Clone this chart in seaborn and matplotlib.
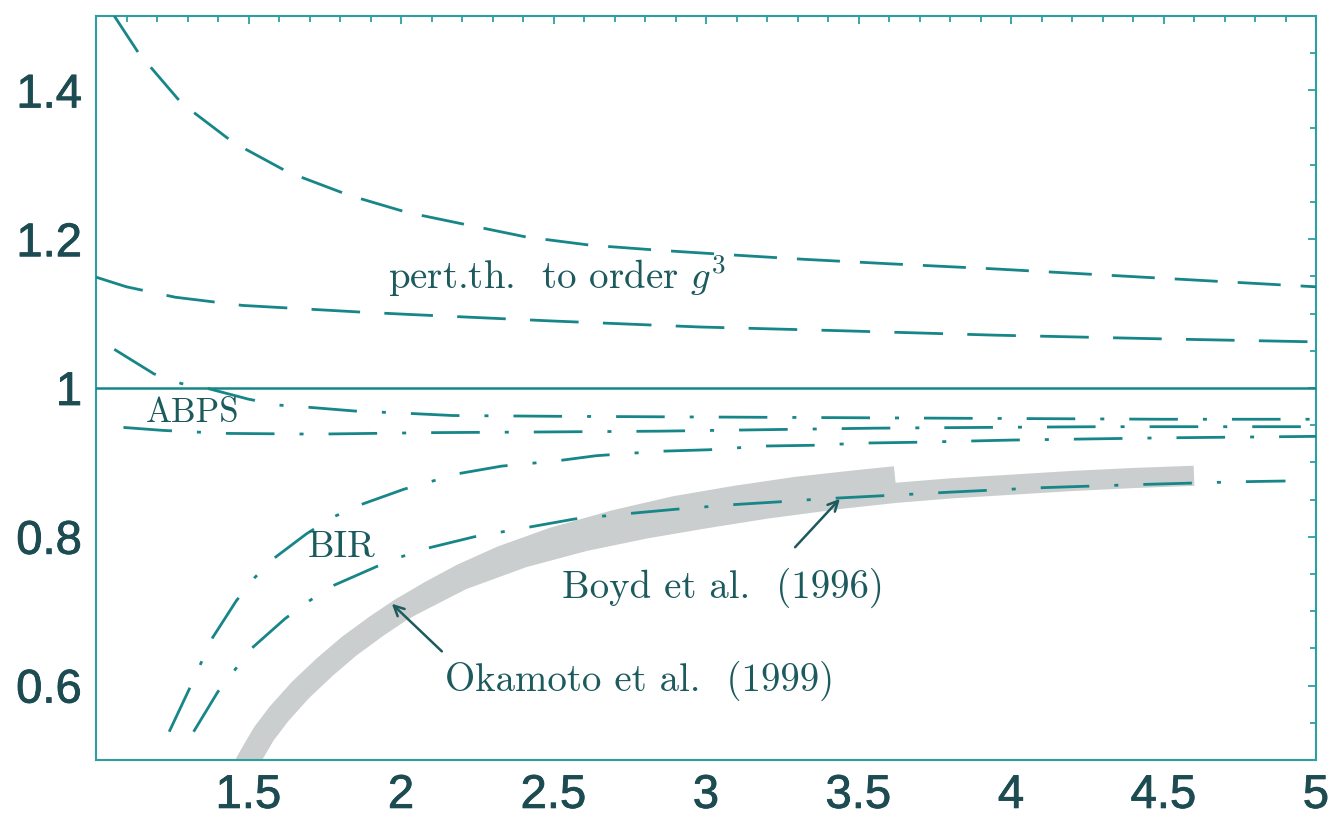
import matplotlib
matplotlib.use("Agg")
import matplotlib.pyplot as plt
import matplotlib.patheffects as pe
import seaborn as sns
import pandas as pd

# ---- curves (x = T/Tc, y = p/p_SB) ----
pert_hi_x = [1.06, 1.14, 1.28, 1.45, 1.63, 1.83, 2.02, 2.22, 2.41, 2.62, 2.85, 3.08, 3.32, 3.60, 3.95, 4.30, 4.65, 5.00]
pert_hi_y = [1.500, 1.450, 1.383, 1.330, 1.290, 1.259, 1.236, 1.219, 1.203, 1.192, 1.185, 1.179, 1.173, 1.167, 1.160, 1.152, 1.144, 1.136]

pert_lo_x = [1.00, 1.10, 1.26, 1.48, 1.87, 2.02, 2.50, 2.98, 3.44, 3.95, 4.50, 5.00]
pert_lo_y = [1.149, 1.136, 1.122, 1.111, 1.102, 1.099, 1.090, 1.082, 1.077, 1.071, 1.066, 1.062]

sb_x = [1.0, 5.0]
sb_y = [1.0, 1.0]

dr_x = [1.06, 1.19, 1.28, 1.37, 1.50, 1.60, 1.70, 1.85, 2.02, 2.17, 2.50, 3.00, 3.50, 4.00, 4.50, 5.00]
dr_y = [1.052, 1.019, 1.006, 0.999, 0.985, 0.977, 0.974, 0.969, 0.966, 0.963, 0.962, 0.961, 0.960, 0.959, 0.958, 0.958]

abps_x = [1.09, 1.22, 1.42, 1.72, 2.10, 2.50, 2.85, 3.20, 3.55, 3.90, 4.30, 4.70, 5.00]
abps_y = [0.947, 0.943, 0.939, 0.938, 0.940, 0.941, 0.942, 0.944, 0.946, 0.947, 0.948, 0.948, 0.948]

bir_hi_x = [1.24, 1.31, 1.38, 1.46, 1.52, 1.58, 1.69, 1.78, 1.86, 2.01, 2.19, 2.33, 2.51, 2.64, 2.85, 3.01, 3.19, 3.35, 3.52, 3.68, 4.00, 4.50, 5.00]
bir_hi_y = [0.538, 0.599, 0.663, 0.714, 0.745, 0.770, 0.804, 0.827, 0.842, 0.864, 0.885, 0.895, 0.902, 0.909, 0.915, 0.917, 0.922, 0.923, 0.926, 0.927, 0.930, 0.933, 0.935]

bir_lo_x = [1.32, 1.40, 1.51, 1.62, 1.70, 1.77, 1.92, 2.00, 2.08, 2.24, 2.42, 2.57, 2.74, 2.90, 3.08, 3.24, 3.38, 3.57, 3.80, 4.10, 4.40, 4.75, 4.90]
bir_lo_y = [0.538, 0.592, 0.650, 0.690, 0.714, 0.733, 0.760, 0.773, 0.784, 0.800, 0.813, 0.824, 0.831, 0.837, 0.843, 0.847, 0.851, 0.855, 0.860, 0.866, 0.870, 0.874, 0.875]

# lattice results (shaded bands)
okamoto_x = [1.48, 1.51, 1.55, 1.60, 1.67, 1.75, 1.83, 1.92, 2.00, 2.10, 2.20, 2.33, 2.50, 2.70, 2.90, 3.10, 3.30, 3.50, 3.62]
okamoto_y = [0.485, 0.507, 0.535, 0.562, 0.594, 0.625, 0.653, 0.680, 0.702, 0.726, 0.748, 0.772, 0.797, 0.820, 0.839, 0.853, 0.865, 0.874, 0.879]

boyd_x = [2.00, 2.20, 2.40, 2.60, 2.80, 3.00, 3.20, 3.44, 3.62, 3.80, 4.00, 4.20, 4.40, 4.60]
boyd_y = [0.700, 0.742, 0.772, 0.794, 0.811, 0.825, 0.838, 0.851, 0.859, 0.865, 0.870, 0.875, 0.879, 0.882]

x_ticks = [1.5, 2, 2.5, 3, 3.5, 4, 4.5, 5]
x_tick_labels = ["1.5", "2", "2.5", "3", "3.5", "4", "4.5", "5"]
y_ticks = [0.6, 0.8, 1.0, 1.2, 1.4]
y_tick_labels = ["0.6", "0.8", "1", "1.2", "1.4"]

LINE = "#178688"
TEXT = "#1c5a5e"
TICK = "#1d4b52"
FRAME = "#2e9fa0"
BAND = "#cacece"

sns.set_theme(style="white")
plt.rcParams["lines.scale_dashes"] = False
plt.rcParams["mathtext.fontset"] = "cm"

fig = plt.figure(figsize=(13.36, 8.19), dpi=100)
ax = fig.add_axes([96 / 1336, 59 / 819, 1220 / 1336, 744 / 819])


def draw(x, y, **kw):
    df = pd.DataFrame({"x": x, "y": y})
    sns.lineplot(data=df, x="x", y="y", sort=False, estimator=None, ax=ax, **kw)
    line = ax.get_lines()[-1]
    line.set_solid_joinstyle("round")
    line.set_dash_joinstyle("round")
    return line


# shaded lattice bands
draw(okamoto_x, okamoto_y, color=BAND, lw=17, solid_capstyle="butt", zorder=1)
draw(boyd_x, boyd_y, color=BAND, lw=14.5, solid_capstyle="butt", zorder=1)

dash_dot = (0, (35, 18, 2.9, 18))

l = draw(pert_hi_x, pert_hi_y, color=LINE, lw=2.0, zorder=3)
l.set_linestyle((0, (31, 14.4)))
l = draw(pert_lo_x, pert_lo_y, color=LINE, lw=2.0, zorder=3)
l.set_linestyle((0, (35, 17.5)))
draw(sb_x, sb_y, color=LINE, lw=1.8, zorder=3)
for xs, ys in [(dr_x, dr_y), (abps_x, abps_y), (bir_hi_x, bir_hi_y), (bir_lo_x, bir_lo_y)]:
    l = draw(xs, ys, color=LINE, lw=2.0, zorder=3)
    l.set_linestyle(dash_dot)

# labels
lab = dict(family="cmr10", fontsize=28, color=TEXT, va="baseline", ha="left", zorder=5)
ax.text(1.957, 1.133, r"pert.th.  to order $g^3$", **lab)
ax.text(1.164, 0.954, "ABPS", **{**lab, "fontsize": 25})
ax.text(1.695, 0.773, "BIR", **{**lab, "fontsize": 27})
ax.text(2.528, 0.718, "Boyd et al.  (1996)", **lab)
ax.text(2.144, 0.593, "Okamoto et al.  (1999)", **lab)

arrow = dict(arrowstyle="->,head_length=0.6,head_width=0.3", color=TEXT, lw=1.8, shrinkA=0, shrinkB=0)
ax.annotate("", xy=(1.970, 0.710), xytext=(2.134, 0.646), arrowprops=arrow, zorder=6)
ax.annotate("", xy=(3.439, 0.851), xytext=(3.292, 0.786), arrowprops=arrow, zorder=6)

ax.set_xlim(1.0, 5.0)
ax.set_ylim(0.5, 1.5)
ax.set_xlabel("")
ax.set_ylabel("")
ax.set_xticks(x_ticks)
ax.set_xticklabels(x_tick_labels)
ax.set_yticks(y_ticks)
ax.set_yticklabels(y_tick_labels)
ax.set_xticks([v / 10 for v in range(11, 50) if v % 5], minor=True)
ax.set_yticks([v / 100 for v in range(55, 150, 5) if v % 20], minor=True)

for lbl in ax.get_xticklabels() + ax.get_yticklabels():
    lbl.set_family("Liberation Sans")
    lbl.set_fontsize(34)
    lbl.set_color(TICK)
    lbl.set_path_effects([pe.withStroke(linewidth=0.6, foreground=TICK)])

ax.tick_params(which="both", direction="in", top=True, right=True, color=FRAME, width=1.3)
ax.tick_params(which="major", length=6)
ax.tick_params(which="minor", length=4)
ax.tick_params(axis="y", pad=10)
ax.tick_params(axis="x", pad=10)
for s in ax.spines.values():
    s.set_color(FRAME)
    s.set_linewidth(1.5)
ax.set_facecolor("white")
fig.patch.set_facecolor("white")

fig.savefig("out.png", dpi=100, facecolor="white")
